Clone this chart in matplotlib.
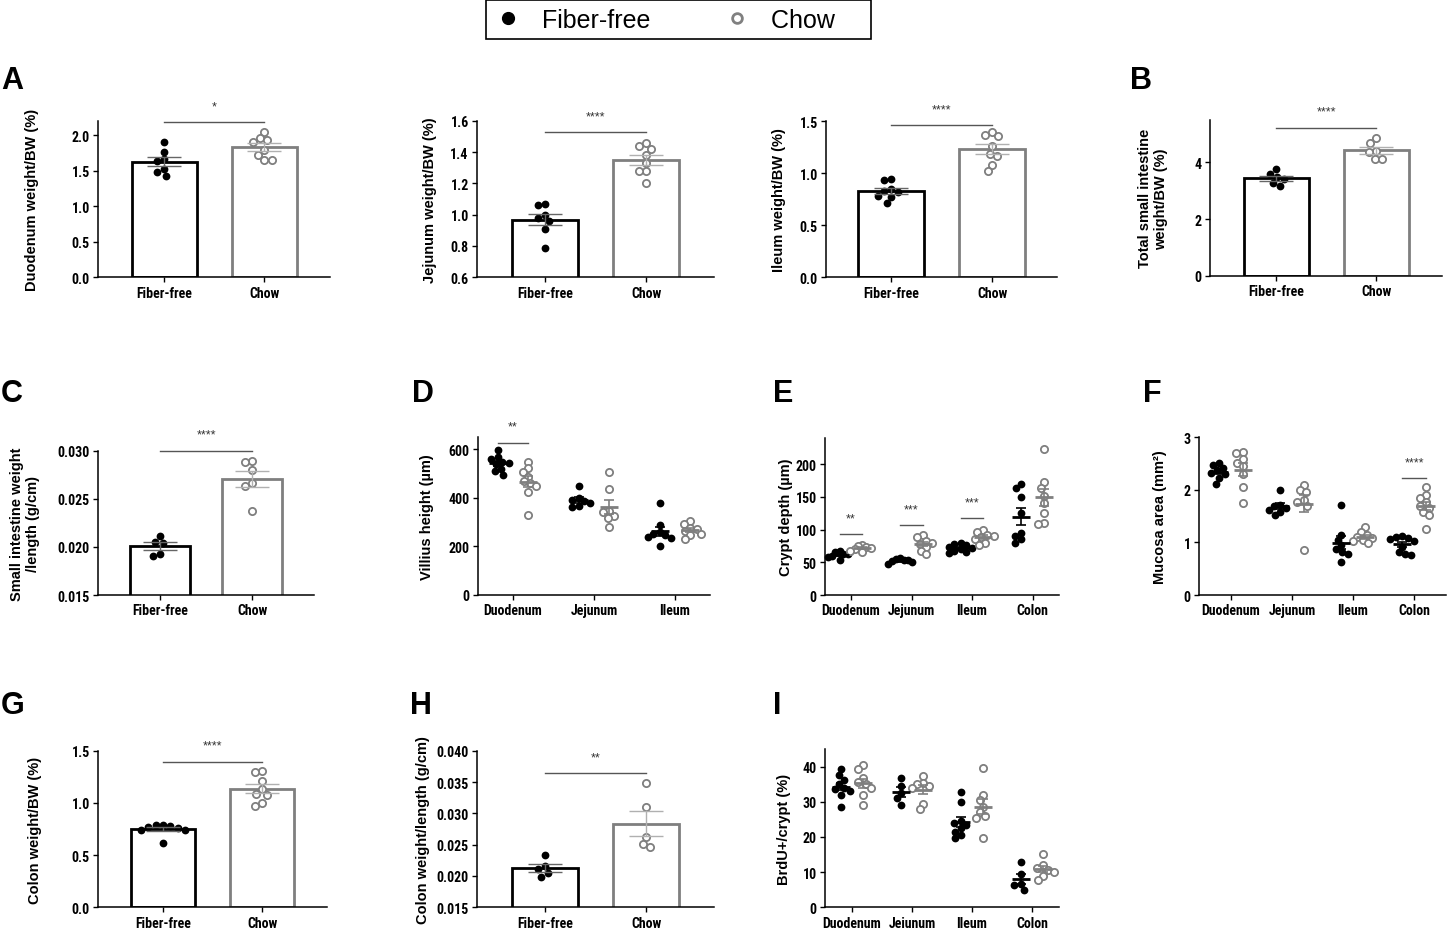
import numpy as np
import matplotlib
matplotlib.use("Agg")
import matplotlib.pyplot as plt
from matplotlib import font_manager
from matplotlib.lines import Line2D

# ---- data ----
groups = ["Fiber-free", "Chow"]
segments3 = ["Duodenum", "Jejunum", "Ileum"]
segments4 = ["Duodenum", "Jejunum", "Ileum", "Colon"]

duod_bw_ff = [1.90, 1.77, 1.66, 1.64, 1.52, 1.48, 1.42]
duod_bw_chow = [2.05, 1.96, 1.93, 1.91, 1.79, 1.72, 1.65, 1.65]
jej_bw_ff = [1.06, 1.07, 1.00, 0.98, 0.96, 0.91, 0.79]
jej_bw_chow = [1.44, 1.455, 1.42, 1.38, 1.33, 1.28, 1.28, 1.20]
ile_bw_ff = [0.95, 0.94, 0.85, 0.83, 0.82, 0.78, 0.77, 0.71]
ile_bw_chow = [1.40, 1.37, 1.36, 1.26, 1.19, 1.17, 1.08, 1.02]
si_bw_ff = [3.76, 3.61, 3.49, 3.40, 3.26, 3.17]
si_bw_chow = [4.85, 4.70, 4.40, 4.38, 4.14, 4.12]
si_len_ff = [0.0211, 0.0205, 0.0204, 0.0193, 0.0191]
si_len_chow = [0.0289, 0.0288, 0.0280, 0.0266, 0.0263, 0.0237]
colon_bw_ff = [0.79, 0.79, 0.78, 0.77, 0.76, 0.74, 0.74, 0.62]
colon_bw_chow = [1.31, 1.30, 1.21, 1.13, 1.09, 1.08, 1.00, 0.97]
colon_len_ff = [0.0234, 0.0216, 0.0211, 0.0205, 0.0199]
colon_len_chow = [0.0348, 0.0310, 0.0262, 0.0251, 0.0247]

villus_ff = [[596, 568, 562, 550, 545, 540, 520, 512, 495],
             [450, 400, 392, 385, 378, 365, 362],
             [378, 288, 260, 252, 248, 240, 235, 200]]
villus_chow = [[550, 522, 508, 488, 470, 462, 448, 425, 330],
               [505, 435, 345, 340, 325, 315, 278],
               [304, 293, 275, 270, 262, 250, 245, 228]]
crypt_ff = [[67, 65, 63, 62, 60, 58, 54],
            [57, 55, 54, 53, 52, 50, 48],
            [80, 78, 76, 74, 72, 70, 68, 66, 64],
            [170, 163, 150, 125, 95, 90, 85, 80]]
crypt_chow = [[77, 75, 73, 72, 70, 68, 65],
              [92, 88, 83, 80, 78, 73, 67, 62],
              [100, 97, 92, 90, 88, 85, 80, 76],
              [223, 172, 163, 152, 140, 125, 110, 108]]
mucosa_ff = [[2.52, 2.48, 2.42, 2.38, 2.33, 2.30, 2.22, 2.12],
             [2.00, 1.72, 1.70, 1.66, 1.62, 1.58, 1.52],
             [1.72, 1.15, 1.05, 0.95, 0.88, 0.82, 0.78, 0.63],
             [1.13, 1.11, 1.09, 1.06, 1.02, 0.92, 0.82, 0.78, 0.76]]
mucosa_chow = [[2.72, 2.70, 2.58, 2.52, 2.45, 2.30, 2.05, 1.75],
               [2.10, 2.00, 1.95, 1.80, 1.76, 1.70, 0.85],
               [1.30, 1.20, 1.15, 1.10, 1.08, 1.05, 1.02, 0.98],
               [2.05, 1.90, 1.85, 1.76, 1.70, 1.65, 1.58, 1.52, 1.25]]
brdu_ff = [[39.3, 37.5, 36.2, 35.0, 34.0, 33.5, 33.0, 31.8, 28.6],
           [36.8, 34.5, 32.5, 31.0, 29.0],
           [32.7, 30.0, 24.5, 24.0, 23.5, 22.5, 21.5, 20.5, 19.6],
           [13.0, 9.4, 6.5, 6.2, 5.0]]
brdu_chow = [[40.4, 39.2, 36.7, 35.5, 35.0, 34.0, 31.8, 29.1],
             [37.4, 35.3, 35.0, 34.5, 34.0, 29.5, 28.0],
             [39.7, 32.0, 30.5, 28.5, 27.0, 26.0, 25.5, 19.6],
             [15.2, 11.9, 11.2, 10.5, 10.0, 9.0, 7.8]]

# ---- styling ----
W, H = 1447, 929
names = {f.name for f in font_manager.fontManager.ttflist}
NARROW = None
for cand in ["Liberation Sans Narrow", "Arial Narrow", "Roboto Condensed",
             "DejaVu Sans Condensed", "Open Sans Condensed", "Noto Sans Condensed"]:
    if cand in names:
        NARROW = cand
        break
if NARROW is None:
    NARROW = "Liberation Sans"
    TICK_FS = 8.5
else:
    TICK_FS = 10
plt.rcParams["font.family"] = ["Liberation Sans", "DejaVu Sans"]

FF_COL = "black"
CHOW_COL = "#7f7f7f"
SIG_COL = "#555555"

fig = plt.figure(figsize=(W / 100, H / 100), dpi=100)


def px_axes(left, right, top, bottom):
    ax = fig.add_axes([left / W, 1 - bottom / H, (right - left) / W, (bottom - top) / H])
    for s in ("top", "right"):
        ax.spines[s].set_visible(False)
    for s in ("left", "bottom"):
        ax.spines[s].set_linewidth(1.1)
    ax.tick_params(width=1.0, length=3.5, pad=2.5)
    return ax


def sem(v):
    v = np.asarray(v, float)
    return v.std(ddof=1) / np.sqrt(v.size)


def swarm(ax, xc, vals, d=6.5, limit=12.0):
    # simple beeswarm in pixel space, squeezed to a max half-width
    vals = np.asarray(vals, float)
    tr = ax.transData
    pts = tr.transform(np.column_stack([np.full(vals.size, xc), vals]))
    ys = pts[:, 1]
    pxu = tr.transform((xc + 1.0, vals[0]))[0] - pts[0, 0]
    placed = []
    offs = np.zeros(vals.size)
    for i in np.argsort(-vals, kind="stable"):
        y = ys[i]
        cands = [0.0]
        for px, py in placed:
            dy = abs(y - py)
            if dy < d:
                dx = np.sqrt(d * d - dy * dy)
                cands += [px + dx, px - dx]
        cands.sort(key=lambda c: (round(abs(c), 6), c))
        pick = cands[0]
        for c in cands:
            if all((c - px) ** 2 + (y - py) ** 2 >= d * d - 1e-6 for px, py in placed):
                pick = c
                break
        placed.append((pick, y))
        offs[i] = pick
    big = np.abs(offs).max()
    if big > limit:
        offs = offs * limit / big
    return xc + offs / pxu


def draw_points(ax, xs, vals, chow):
    if chow:
        ax.plot(xs, vals, "o", ms=5.2, mfc="white", mec=CHOW_COL, mew=1.3, zorder=3, clip_on=False)
    else:
        ax.plot(xs, vals, "o", ms=5.6, mfc=FF_COL, mec=FF_COL, mew=0, zorder=3, clip_on=False)


def set_ticks(ax, xticks, xlabels, yticks, fmt):
    ax.set_xticks(xticks)
    ax.set_xticklabels(xlabels, fontfamily=NARROW, fontweight="bold", fontsize=TICK_FS)
    ax.set_yticks(yticks)
    ax.set_yticklabels([fmt.format(t) for t in yticks], fontfamily=NARROW, fontweight="bold",
                       fontsize=TICK_FS)


def set_ylabel(ax, text, left, right, label_right):
    ax.set_ylabel(text, fontsize=10.5, fontweight="bold", multialignment="center")
    ax.yaxis.set_label_coords((label_right - left) / (right - left), 0.5)


def sig(ax, x1, x2, y, stars):
    ax.plot([x1, x2], [y, y], color=SIG_COL, lw=1, clip_on=False, zorder=5)
    ax.annotate(stars, ((x1 + x2) / 2, y), xytext=(0, 11.5), textcoords="offset points",
                ha="center", va="center", fontsize=9, color="#333333", annotation_clip=False)


def bar_panel(left, c1, c2, top, bottom, ff, chow, ylim, yticks, fmt, ylabel, label_right, sig_y, stars):
    unit = c2 - c1
    off = (c1 - left) / unit
    right = c2 + (c1 - left)
    ax = px_axes(left, right, top, bottom)
    ax.set_xlim(-off, 1 + off)
    ax.set_ylim(*ylim)
    for i, vals in enumerate([ff, chow]):
        is_chow = i == 1
        col = CHOW_COL if is_chow else FF_COL
        m = np.mean(vals)
        ax.bar(i, m, width=0.65, color="white", edgecolor=col, linewidth=2.0, zorder=2)
        draw_points(ax, swarm(ax, i, vals, d=7.5, limit=26), vals, is_chow)
        ax.errorbar(i, m, yerr=sem(vals), fmt="none", ecolor="#b0b0b0" if is_chow else "#666666",
                    elinewidth=1, capsize=12, capthick=1, zorder=4)
    set_ticks(ax, [0, 1], groups, yticks, fmt)
    set_ylabel(ax, ylabel, left, right, label_right)
    sig(ax, 0, 1, sig_y, stars)
    return ax


def dot_panel(left, t0, sp, top, bottom, cats, ff_groups, chow_groups, ylim, yticks, fmt,
              ylabel, label_right, sigs):
    n = len(cats)
    off = (t0 - left) / sp
    right = t0 + (n - 1) * sp + (t0 - left)
    ax = px_axes(left, right, top, bottom)
    ax.set_xlim(-off, n - 1 + off)
    ax.set_ylim(*ylim)
    hw = 9.0 / sp
    shift = 0.19
    for g in range(n):
        for vals, dx, is_chow in [(ff_groups[g], -shift, False), (chow_groups[g], shift, True)]:
            col = CHOW_COL if is_chow else FF_COL
            xc = g + dx
            draw_points(ax, swarm(ax, xc, vals), vals, is_chow)
            m = np.mean(vals)
            ax.hlines(m, xc - hw, xc + hw, color=col, lw=2, zorder=4)
            ax.errorbar(xc, m, yerr=sem(vals), fmt="none", ecolor=col, elinewidth=1.2,
                        capsize=3.5, capthick=1.2, zorder=4)
    set_ticks(ax, list(range(n)), cats, yticks, fmt)
    set_ylabel(ax, ylabel, left, right, label_right)
    for g, y, stars in sigs:
        sig(ax, g - shift, g + shift, y, stars)
    return ax


# ---- row 1 ----
bar_panel(98, 164, 264, 122, 278.3, duod_bw_ff, duod_bw_chow, (0, 2.2),
          [0, 0.5, 1.0, 1.5, 2.0], "{:.1f}", "Duodenum weight/BW (%)", 39, 2.18, "*")
bar_panel(477, 545, 646, 121.7, 278.3, jej_bw_ff, jej_bw_chow, (0.6, 1.6),
          [0.6, 0.8, 1.0, 1.2, 1.4, 1.6], "{:.1f}", "Jejunum weight/BW (%)", 437, 1.525, "****")
bar_panel(826, 891, 992, 122.3, 278.3, ile_bw_ff, ile_bw_chow, (0, 1.5),
          [0, 0.5, 1.0, 1.5], "{:.1f}", "Ileum weight/BW (%)", 786, 1.465, "****")
bar_panel(1210, 1276, 1376, 121, 276.7, si_bw_ff, si_bw_chow, (0, 5.5),
          [0, 2, 4], "{:.0f}", "Total small intestine\nweight/BW (%)", 1168, 5.23, "****")

# ---- row 2 ----
bar_panel(98, 160, 252, 451.7, 596, si_len_ff, si_len_chow, (0.015, 0.030),
          [0.015, 0.020, 0.025, 0.030], "{:.3f}", "Small intestine weight\n/length (g/cm)", 40, 0.0300, "****")
dot_panel(478, 513, 81, 438.3, 595.7, segments3, villus_ff, villus_chow, (0, 650),
          [0, 200, 400, 600], "{:.0f}", "Villius height (µm)", 434, [(0, 628, "**")])
dot_panel(825, 851, 60.5, 439, 596, segments4, crypt_ff, crypt_chow, (0, 240),
          [0, 50, 100, 150, 200], "{:.0f}", "Crypt depth (µm)", 793,
          [(0, 92.5, "**"), (1, 106.4, "***"), (2, 117.3, "***")])
dot_panel(1199, 1231, 61, 438.3, 596, segments4, mucosa_ff, mucosa_chow, (0, 3),
          [0, 1, 2, 3], "{:.0f}", "Mucosa area (mm²)", 1167, [(3, 2.22, "****")])

# ---- row 3 ----
bar_panel(98, 163, 262, 751.7, 908.3, colon_bw_ff, colon_bw_chow, (0, 1.5),
          [0, 0.5, 1.0, 1.5], "{:.1f}", "Colon weight/BW (%)", 42, 1.395, "****")
bar_panel(477, 545, 646, 751.7, 908.3, colon_len_ff, colon_len_chow, (0.015, 0.040),
          [0.015, 0.020, 0.025, 0.030, 0.035, 0.040], "{:.3f}", "Colon weight/length (g/cm)", 430, 0.0364, "**")
dot_panel(825, 852, 60, 750, 908.3, segments4, brdu_ff, brdu_chow, (0, 45),
          [0, 10, 20, 30, 40], "{:.0f}", "BrdU+/crypt (%)", 791, [])

# ---- panel letters ----
for letter, x, y in [("A", 1, 89), ("B", 1130, 89), ("C", 1, 402), ("D", 412, 402),
                     ("E", 773, 402), ("F", 1143, 402), ("G", 1, 714), ("H", 410, 714),
                     ("I", 773, 714)]:
    fig.text(x / W, 1 - y / H, letter, fontsize=22, fontweight="bold",
             ha="left", va="baseline")

# ---- legend ----
handles = [Line2D([], [], ls="none", marker="o", ms=8.5, mfc="black", mec="black"),
           Line2D([], [], ls="none", marker="o", ms=7, mfc="white", mec="#808080", mew=2)]
leg = fig.legend(handles, ["Fiber-free", "Chow    "], loc="upper left",
                 bbox_to_anchor=(486 / W, 1 - 1 / H), ncol=2, fontsize=18, frameon=True,
                 fancybox=False, edgecolor="black", framealpha=1, borderpad=0.3,
                 handlelength=1.16, handletextpad=0.78, columnspacing=2.9, borderaxespad=0)
leg.get_frame().set_linewidth(1.2)

fig.savefig("out.png", dpi=100)
